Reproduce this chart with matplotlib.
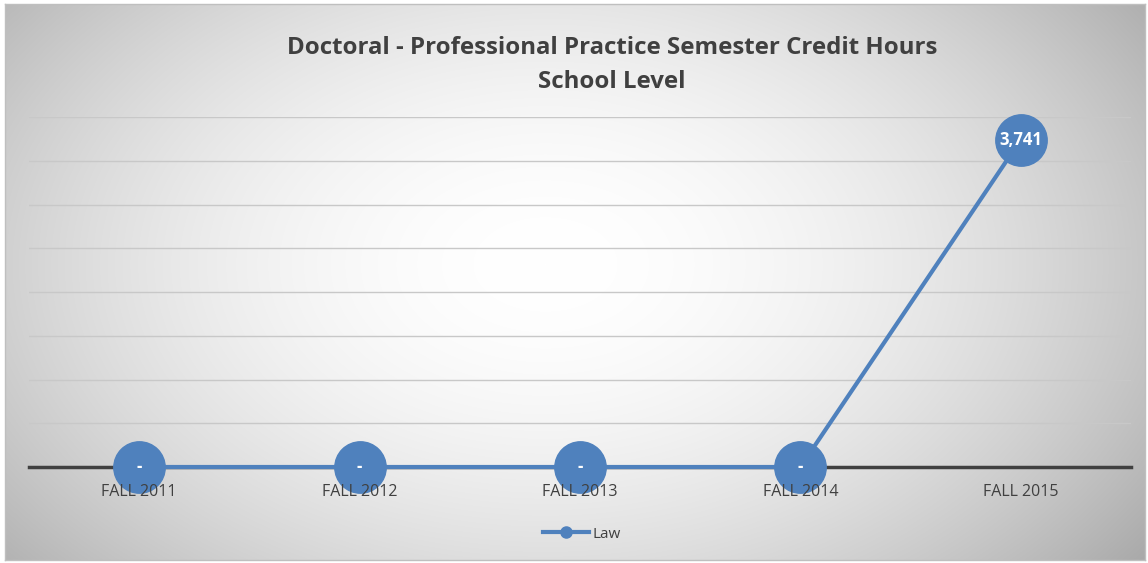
import numpy as np
import matplotlib
matplotlib.use("Agg")
import matplotlib.pyplot as plt
from matplotlib.lines import Line2D
import matplotlib.transforms as mtransforms

categories = ["FALL 2011", "FALL 2012", "FALL 2013", "FALL 2014", "FALL 2015"]
law = [0, 0, 0, 0, 3741]
series_name = "Law"
title = "Doctoral - Professional Practice Semester Credit Hours\nSchool Level"

W, H = 1148, 563
fig = plt.figure(figsize=(W / 100, H / 100), dpi=100)
fig.patch.set_facecolor("white")

# radial gradient background
bg = fig.add_axes([5 / W, 1 - 560 / H, 1140 / W, 556 / H])
yy, xx = np.mgrid[0:556, 0:1140]
cx, cy = 540, 260
r = np.sqrt(((xx - cx) / 640) ** 2 + ((yy - cy) / 420) ** 2)
r = np.clip(r, 0, 1.2)
v = 1.0 - 0.25 * r ** 1.9
img = np.dstack([v, v, v])
bg.imshow(img, aspect="auto", extent=[0, 1, 0, 1], origin="upper")
bg.set_xticks([])
bg.set_yticks([])
for s in bg.spines.values():
    s.set_color("#bfbfbf")
    s.set_linewidth(1)

# plot area
left, right, top, bottom = 29, 1131, 117, 467
ax = fig.add_axes([left / W, 1 - bottom / H, (right - left) / W, (bottom - top) / H])
ax.patch.set_alpha(0)
x = np.arange(len(categories))
ax.set_xlim(-0.5, len(categories) - 0.5)
ax.set_ylim(0, 4000)
ax.set_yticks(np.arange(0, 4001, 500))
ax.yaxis.grid(True, color="#c8c8c8", linewidth=1)
ax.set_axisbelow(True)
ax.tick_params(axis="y", left=False, labelleft=False)
for s in ["top", "right", "left"]:
    ax.spines[s].set_visible(False)
ax.spines["bottom"].set_color("#404040")
ax.spines["bottom"].set_linewidth(2.5)
ax.spines["bottom"].set_zorder(1)
ax.set_xticks(x)
ax.tick_params(axis="x", length=0, labelbottom=False)

trans = mtransforms.blended_transform_factory(ax.transData, ax.transAxes)
for xi, c in zip(x, categories):
    ax.text(xi, -25 / 350, c, transform=trans, ha="center", va="center", fontsize=11.5,
            color="#404040", family="Open Sans", zorder=6, clip_on=False)

ax.plot(x, law, color="#4f81bd", linewidth=3, marker="o", markersize=37,
        markerfacecolor="#4f81bd", markeredgecolor="#4f81bd", zorder=3, clip_on=False)
for xi, val in zip(x, law):
    lab = "-" if val == 0 else f"{val:,}"
    ax.text(xi, val, lab, ha="center", va="center", color="white", fontsize=12,
            fontweight="bold", family="Open Sans", zorder=4)

fig.text(612 / W, 1 - 65 / H, title, ha="center", va="center", fontsize=17.3,
         fontweight="bold", color="#404040", family="Open Sans", linespacing=1.6)

handle = Line2D([], [], color="#4f81bd", linewidth=3, marker="o", markersize=8)
leg = fig.legend([handle], [series_name], loc="center", bbox_to_anchor=(582 / W, 1 - 534 / H),
                 frameon=False, prop={"family": "Open Sans", "size": 11}, handlelength=3,
                 handletextpad=0.2, labelcolor="#404040")

fig.savefig("out.png", dpi=100)
